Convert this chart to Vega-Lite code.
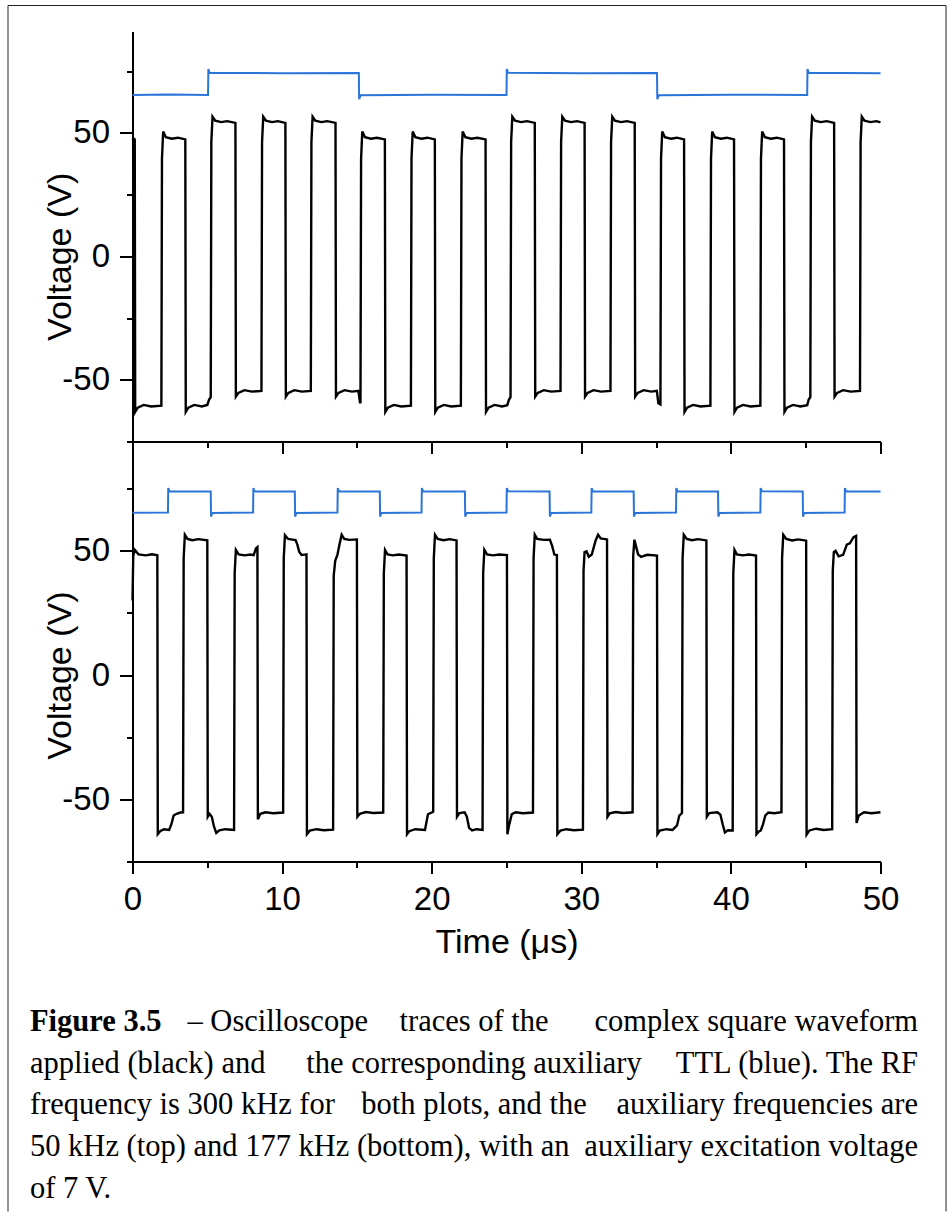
{
  "$schema": "https://vega.github.io/schema/vega-lite/v6.json",
  "padding": {"left": 7.5, "top": 4.5, "right": 0, "bottom": 0},
  "background": "white",
  "bounds": "flush",
  "spacing": 0,
  "config": {
    "view": {"stroke": null},
    "axis": {
      "grid": false,
      "domainColor": "black",
      "domainWidth": 2,
      "tickColor": "black",
      "tickWidth": 2,
      "labelFont": "Liberation Sans",
      "labelFontSize": 33,
      "labelColor": "black",
      "labelPadding": 10,
      "labelOverlap": false,
      "labelFlush": false,
      "titleFont": "Liberation Sans",
      "titleFontSize": 34,
      "titleFontWeight": "normal",
      "titleColor": "black"
    }
  },
  "datasets": {
    "frame": [
      {"x1": -8.322, "x2": -8.322, "y1": 101.53, "y2": -386.75},
      {"x1": 54.38, "x2": 54.38, "y1": 101.53, "y2": -386.75},
      {"x1": -8.322, "x2": 54.38, "y1": 101.53, "y2": 101.53}
    ],
    "topBlack": [
      {"t":0,"v":47.0},{"t":0.08,"v":47.6},{"t":0.15,"v":47.3},
      {"t":0.18,"v":-63},{"t":0.35,"v":-61.3},{"t":0.75,"v":-60.2},{"t":1.25,"v":-60.8},{"t":1.93,"v":-60.5},
      {"t":1.97,"v":39.6},{"t":2.05,"v":50.5},{"t":2.23,"v":48.2},{"t":2.63,"v":47.6},{"t":3.03,"v":48.0},{"t":3.53,"v":47.3},
      {"t":3.56,"v":-63},{"t":3.73,"v":-61.3},{"t":4.13,"v":-60.2},{"t":4.63,"v":-60.8},{"t":5.0,"v":-60.2},{"t":5.12,"v":-58},{"t":5.23,"v":-57},
      {"t":5.27,"v":46.3},{"t":5.35,"v":56.5},{"t":5.53,"v":54.9},{"t":5.93,"v":54.3},{"t":6.33,"v":54.7},{"t":6.88,"v":54.0},
      {"t":6.91,"v":-56.8},{"t":7.08,"v":-55.3},{"t":7.48,"v":-54.2},{"t":7.98,"v":-54.8},{"t":8.62,"v":-54.5},
      {"t":8.66,"v":46.3},{"t":8.74,"v":56.5},{"t":8.92,"v":54.9},{"t":9.32,"v":54.3},{"t":9.72,"v":54.7},{"t":10.22,"v":54.0},
      {"t":10.25,"v":-56.8},{"t":10.42,"v":-55.3},{"t":10.82,"v":-54.2},{"t":11.32,"v":-54.8},{"t":11.92,"v":-54.5},
      {"t":11.96,"v":46.3},{"t":12.04,"v":56.5},{"t":12.22,"v":54.9},{"t":12.62,"v":54.3},{"t":13.02,"v":54.7},{"t":13.57,"v":54.0},
      {"t":13.6,"v":-56.8},{"t":13.77,"v":-55.3},{"t":14.17,"v":-54.2},{"t":14.67,"v":-54.8},{"t":15.1,"v":-54.5},{"t":15.2,"v":-59},{"t":15.24,"v":-59.5},
      {"t":15.28,"v":39.6},{"t":15.36,"v":50.5},{"t":15.54,"v":48.2},{"t":15.94,"v":47.6},{"t":16.34,"v":48.0},{"t":16.87,"v":47.3},
      {"t":16.9,"v":-63},{"t":17.07,"v":-61.3},{"t":17.47,"v":-60.2},{"t":17.97,"v":-60.8},{"t":18.61,"v":-60.5},
      {"t":18.65,"v":39.6},{"t":18.73,"v":50.5},{"t":18.91,"v":48.2},{"t":19.31,"v":47.6},{"t":19.71,"v":48.0},{"t":20.21,"v":47.3},
      {"t":20.24,"v":-63},{"t":20.41,"v":-61.3},{"t":20.81,"v":-60.2},{"t":21.31,"v":-60.8},{"t":21.95,"v":-60.5},
      {"t":21.99,"v":39.6},{"t":22.07,"v":50.5},{"t":22.25,"v":48.2},{"t":22.65,"v":47.6},{"t":23.05,"v":48.0},{"t":23.6,"v":47.3},
      {"t":23.63,"v":-63},{"t":23.8,"v":-61.3},{"t":24.2,"v":-60.2},{"t":24.7,"v":-60.8},{"t":25.05,"v":-60.3},{"t":25.17,"v":-58},{"t":25.27,"v":-57},
      {"t":25.31,"v":46.3},{"t":25.39,"v":56.5},{"t":25.57,"v":54.9},{"t":25.97,"v":54.3},{"t":26.37,"v":54.7},{"t":26.89,"v":54.0},
      {"t":26.92,"v":-56.8},{"t":27.09,"v":-55.3},{"t":27.49,"v":-54.2},{"t":27.99,"v":-54.8},{"t":28.61,"v":-54.5},
      {"t":28.65,"v":46.3},{"t":28.73,"v":56.5},{"t":28.91,"v":54.9},{"t":29.31,"v":54.3},{"t":29.71,"v":54.7},{"t":30.22,"v":54.0},
      {"t":30.25,"v":-56.8},{"t":30.42,"v":-55.3},{"t":30.82,"v":-54.2},{"t":31.32,"v":-54.8},{"t":31.95,"v":-54.5},
      {"t":31.99,"v":46.3},{"t":32.07,"v":56.5},{"t":32.25,"v":54.9},{"t":32.65,"v":54.3},{"t":33.05,"v":54.7},{"t":33.57,"v":54.0},
      {"t":33.6,"v":-56.8},{"t":33.77,"v":-55.3},{"t":34.17,"v":-54.2},{"t":34.67,"v":-54.8},{"t":35.05,"v":-54.5},{"t":35.15,"v":-59.5},{"t":35.29,"v":-60},
      {"t":35.33,"v":39.6},{"t":35.41,"v":50.5},{"t":35.59,"v":48.2},{"t":35.99,"v":47.6},{"t":36.39,"v":48.0},{"t":36.87,"v":47.3},
      {"t":36.9,"v":-63},{"t":37.07,"v":-61.3},{"t":37.47,"v":-60.2},{"t":37.97,"v":-60.8},{"t":38.63,"v":-60.5},
      {"t":38.67,"v":39.6},{"t":38.75,"v":50.5},{"t":38.93,"v":48.2},{"t":39.33,"v":47.6},{"t":39.73,"v":48.0},{"t":40.21,"v":47.3},
      {"t":40.24,"v":-63},{"t":40.41,"v":-61.3},{"t":40.81,"v":-60.2},{"t":41.31,"v":-60.8},{"t":41.97,"v":-60.5},
      {"t":42.01,"v":39.6},{"t":42.09,"v":50.5},{"t":42.27,"v":48.2},{"t":42.67,"v":47.6},{"t":43.07,"v":48.0},{"t":43.55,"v":47.3},
      {"t":43.58,"v":-63},{"t":43.75,"v":-61.3},{"t":44.15,"v":-60.2},{"t":44.65,"v":-60.8},{"t":45.1,"v":-60.3},{"t":45.2,"v":-58},{"t":45.31,"v":-57},
      {"t":45.35,"v":46.3},{"t":45.43,"v":56.5},{"t":45.61,"v":54.9},{"t":46.01,"v":54.3},{"t":46.41,"v":54.7},{"t":46.9,"v":54.0},
      {"t":46.93,"v":-56.8},{"t":47.1,"v":-55.3},{"t":47.5,"v":-54.2},{"t":48.0,"v":-54.8},{"t":48.63,"v":-54.5},
      {"t":48.67,"v":46.3},{"t":48.75,"v":56.5},{"t":48.93,"v":54.9},{"t":49.33,"v":54.3},{"t":49.73,"v":54.7},{"t":50.0,"v":54.2}
    ],
    "topBlue": [
      {"t":0,"v":65.3},{"t":2.5,"v":65.5},{"t":5.05,"v":65.3},{"t":5.07,"v":75.8},{"t":5.15,"v":74.3},{"t":10,"v":74.1},
      {"t":15.13,"v":74.2},{"t":15.15,"v":63.6},{"t":15.25,"v":65.2},{"t":20,"v":65.4},
      {"t":25.0,"v":65.3},{"t":25.02,"v":75.8},{"t":25.1,"v":74.3},{"t":30,"v":74.1},
      {"t":35.06,"v":74.2},{"t":35.08,"v":63.6},{"t":35.18,"v":65.2},{"t":40,"v":65.4},
      {"t":45.1,"v":65.3},{"t":45.12,"v":75.8},{"t":45.2,"v":74.3},{"t":50,"v":74.1}
    ],
    "botBlack": [
      {"t":0,"v":30},{"t":0.05,"v":48},{"t":0.15,"v":50.4},{"t":0.4,"v":48.6},{"t":0.9,"v":48.2},{"t":1.3,"v":48.6},{"t":1.66,"v":48.2},
      {"t":1.69,"v":-64},{"t":1.85,"v":-62.8},{"t":2.1,"v":-62.0},{"t":2.45,"v":-62.3},{"t":2.6,"v":-60},{"t":2.75,"v":-56.5},{"t":2.95,"v":-55.8},{"t":3.2,"v":-55.3},{"t":3.38,"v":-55.2},
      {"t":3.42,"v":47},{"t":3.5,"v":56.5},{"t":3.68,"v":54.8},{"t":4.0,"v":54.3},{"t":4.4,"v":54.7},{"t":5.0,"v":54.2},
      {"t":5.03,"v":-57},{"t":5.15,"v":-55.8},{"t":5.3,"v":-57},{"t":5.45,"v":-61},{"t":5.6,"v":-63.5},{"t":5.8,"v":-62.5},{"t":6.2,"v":-62.0},{"t":6.79,"v":-62.3},
      {"t":6.83,"v":41},{"t":6.91,"v":50.4},{"t":7.1,"v":48.6},{"t":7.5,"v":48.2},{"t":7.9,"v":48.5},{"t":8.1,"v":48.3},{"t":8.25,"v":51},{"t":8.35,"v":51.5},
      {"t":8.38,"v":-58},{"t":8.55,"v":-55.8},{"t":8.9,"v":-55.2},{"t":9.4,"v":-55.6},{"t":10.07,"v":-55.3},
      {"t":10.11,"v":47},{"t":10.19,"v":56.3},{"t":10.4,"v":54.8},{"t":10.7,"v":54.5},{"t":10.9,"v":54.3},{"t":11.02,"v":52.5},{"t":11.15,"v":49.5},{"t":11.3,"v":48.3},{"t":11.63,"v":48.6},
      {"t":11.66,"v":-64},{"t":11.85,"v":-62.6},{"t":12.3,"v":-62},{"t":12.8,"v":-62.4},{"t":13.41,"v":-62.2},
      {"t":13.45,"v":40},{"t":13.55,"v":46},{"t":13.7,"v":48.5},{"t":13.85,"v":53},{"t":13.98,"v":56.5},{"t":14.15,"v":54.8},{"t":14.5,"v":54.4},{"t":15.0,"v":54.6},
      {"t":15.03,"v":-57},{"t":15.2,"v":-55.8},{"t":15.6,"v":-55.1},{"t":16.1,"v":-55.5},{"t":16.76,"v":-55.3},
      {"t":16.8,"v":41},{"t":16.88,"v":50.4},{"t":17.05,"v":48.6},{"t":17.4,"v":48.2},{"t":17.8,"v":48.5},{"t":18.32,"v":48.1},
      {"t":18.35,"v":-64},{"t":18.5,"v":-62.8},{"t":18.9,"v":-62},{"t":19.55,"v":-62.3},{"t":19.75,"v":-56},{"t":20.1,"v":-55},
      {"t":20.14,"v":47},{"t":20.22,"v":56.5},{"t":20.4,"v":54.8},{"t":20.8,"v":54.3},{"t":21.2,"v":54.7},{"t":21.66,"v":54.2},
      {"t":21.69,"v":-57},{"t":21.85,"v":-55.5},{"t":22.2,"v":-55.2},{"t":22.35,"v":-57},{"t":22.5,"v":-61.5},{"t":22.7,"v":-62.5},{"t":23.0,"v":-62},{"t":23.4,"v":-62.3},
      {"t":23.44,"v":41},{"t":23.52,"v":50.4},{"t":23.7,"v":48.6},{"t":24.1,"v":48.2},{"t":24.5,"v":48.5},{"t":25.03,"v":48.3},
      {"t":25.06,"v":-64},{"t":25.15,"v":-61},{"t":25.35,"v":-56},{"t":25.6,"v":-55.2},{"t":26.1,"v":-55.6},{"t":26.77,"v":-55.3},
      {"t":26.81,"v":47},{"t":26.89,"v":56.5},{"t":27.05,"v":54.8},{"t":27.5,"v":54.4},{"t":27.9,"v":54.5},{"t":28.05,"v":52},{"t":28.2,"v":48.5},{"t":28.37,"v":48.3},
      {"t":28.4,"v":-64},{"t":28.6,"v":-62.6},{"t":29.0,"v":-62},{"t":29.5,"v":-62.4},{"t":30.11,"v":-62.2},
      {"t":30.15,"v":42},{"t":30.22,"v":49.5},{"t":30.35,"v":49.8},{"t":30.5,"v":47.6},{"t":30.7,"v":48.5},{"t":30.95,"v":54},{"t":31.12,"v":56.5},{"t":31.3,"v":55},{"t":31.72,"v":54.6},
      {"t":31.75,"v":-57},{"t":31.9,"v":-55.6},{"t":32.3,"v":-55.1},{"t":32.8,"v":-55.5},{"t":33.43,"v":-55.2},
      {"t":33.47,"v":48},{"t":33.55,"v":54.5},{"t":33.65,"v":52},{"t":33.8,"v":48.5},{"t":34.0,"v":47.6},{"t":34.4,"v":48.4},{"t":35.06,"v":48.1},
      {"t":35.09,"v":-64},{"t":35.25,"v":-62.6},{"t":35.7,"v":-62},{"t":36.1,"v":-62.3},{"t":36.4,"v":-60.5},{"t":36.55,"v":-56.5},{"t":36.73,"v":-55.5},
      {"t":36.77,"v":47},{"t":36.85,"v":56.5},{"t":37.05,"v":54.8},{"t":37.4,"v":54.3},{"t":37.8,"v":54.7},{"t":38.36,"v":54.2},
      {"t":38.39,"v":-57},{"t":38.55,"v":-55.5},{"t":39.1,"v":-55.2},{"t":39.3,"v":-56.2},{"t":39.45,"v":-60},{"t":39.6,"v":-63.3},{"t":39.8,"v":-62.4},{"t":40.12,"v":-62.5},
      {"t":40.16,"v":41},{"t":40.24,"v":50.4},{"t":40.4,"v":48.6},{"t":40.8,"v":48.2},{"t":41.2,"v":48.5},{"t":41.68,"v":48.1},
      {"t":41.71,"v":-64},{"t":41.85,"v":-63},{"t":42.0,"v":-62.5},{"t":42.15,"v":-60},{"t":42.3,"v":-56.5},{"t":42.5,"v":-55.3},{"t":42.9,"v":-55.6},{"t":43.38,"v":-55.2},
      {"t":43.42,"v":47},{"t":43.5,"v":56.5},{"t":43.7,"v":54.8},{"t":44.1,"v":54.2},{"t":44.5,"v":54.6},{"t":45.03,"v":54.1},
      {"t":45.06,"v":-64.2},{"t":45.25,"v":-62.5},{"t":45.7,"v":-61.8},{"t":46.2,"v":-62.3},{"t":46.77,"v":-62},
      {"t":46.81,"v":42},{"t":46.88,"v":49.5},{"t":47.0,"v":50},{"t":47.2,"v":47.8},{"t":47.5,"v":48.4},{"t":47.75,"v":52.5},{"t":47.95,"v":53},{"t":48.2,"v":55.5},{"t":48.37,"v":56},
      {"t":48.4,"v":-59.5},{"t":48.55,"v":-56.5},{"t":48.9,"v":-55.2},{"t":49.4,"v":-55.6},{"t":50,"v":-55.2}
    ],
    "botBlue": [
      {"t":0,"v":65.3},{"t":2.37,"v":65.4},{"t":2.39,"v":75.3},{"t":2.47,"v":74.0},{"t":5.23,"v":73.9},{"t":5.25,"v":63.8},{"t":5.33,"v":65.2},
      {"t":8.06,"v":65.4},{"t":8.08,"v":75.3},{"t":8.16,"v":74.0},{"t":10.85,"v":73.9},{"t":10.87,"v":63.8},{"t":10.95,"v":65.2},
      {"t":13.70,"v":65.4},{"t":13.72,"v":75.3},{"t":13.8,"v":74.0},{"t":16.53,"v":73.9},{"t":16.55,"v":63.8},{"t":16.63,"v":65.2},
      {"t":19.32,"v":65.4},{"t":19.34,"v":75.3},{"t":19.42,"v":74.0},{"t":22.22,"v":73.9},{"t":22.24,"v":63.8},{"t":22.32,"v":65.2},
      {"t":25.0,"v":65.4},{"t":25.02,"v":75.3},{"t":25.1,"v":74.0},{"t":27.88,"v":73.9},{"t":27.9,"v":63.8},{"t":27.98,"v":65.2},
      {"t":30.67,"v":65.4},{"t":30.69,"v":75.3},{"t":30.77,"v":74.0},{"t":33.5,"v":73.9},{"t":33.52,"v":63.8},{"t":33.6,"v":65.2},
      {"t":36.33,"v":65.4},{"t":36.35,"v":75.3},{"t":36.43,"v":74.0},{"t":39.14,"v":73.9},{"t":39.16,"v":63.8},{"t":39.24,"v":65.2},
      {"t":41.97,"v":65.4},{"t":41.99,"v":75.3},{"t":42.07,"v":74.0},{"t":44.8,"v":73.9},{"t":44.82,"v":63.8},{"t":44.9,"v":65.2},
      {"t":47.6,"v":65.4},{"t":47.62,"v":75.3},{"t":47.7,"v":74.0},{"t":50,"v":73.9}
    ],
    "capBold": [
      {"pos": 0, "line": 1, "text": "Figure 3.5"}
    ],
    "capLead": [
      {"pos": 0, "line": 1, "text": "– Oscilloscope"}
    ],
    "capLeft": [
      {"pos": 0, "line": 2, "text": "applied (black) and"},
      {"pos": 0, "line": 3, "text": "frequency is 300 kHz for"},
      {"pos": 0, "line": 4, "text": "50 kHz (top) and 177 kHz (bottom), with an"},
      {"pos": 0, "line": 5, "text": "of 7 V."}
    ],
    "capMid": [
      {"pos": 0.5, "line": 1, "text": "traces of the"},
      {"pos": 0.5, "line": 2, "text": "the corresponding auxiliary"},
      {"pos": 0.5, "line": 3, "text": "both plots, and the"}
    ],
    "capRight": [
      {"pos": 1, "line": 1, "text": "complex square waveform"},
      {"pos": 1, "line": 2, "text": "TTL (blue). The RF"},
      {"pos": 1, "line": 3, "text": "auxiliary frequencies are"},
      {"pos": 1, "line": 4, "text": "auxiliary excitation voltage"}
    ]
  },
  "vconcat": [
    {
      "width": 748,
      "height": 410,
      "layer": [
        {
          "data": {"name": "frame"},
          "mark": {"type": "rule", "color": "#222222", "strokeWidth": 1},
          "encoding": {
            "x": {"field": "x1", "type": "quantitative"},
            "x2": {"field": "x2"},
            "y": {"field": "y1", "type": "quantitative"},
            "y2": {"field": "y2"}
          }
        },
        {
          "data": {"name": "topBlue"},
          "mark": {"type": "line", "color": "#2B74D9", "strokeWidth": 2},
          "encoding": {
            "x": {"field": "t", "type": "quantitative"},
            "y": {"field": "v", "type": "quantitative"}
          }
        },
        {
          "data": {"name": "topBlack"},
          "mark": {"type": "line", "color": "black", "strokeWidth": 2.4},
          "encoding": {
            "x": {
              "field": "t", "type": "quantitative",
              "scale": {"domain": [0, 50], "nice": false, "zero": false},
              "axis": {
                "title": null,
                "labels": false,
                "values": [0, 5, 10, 15, 20, 25, 30, 35, 40, 45, 50],
                "tickSize": {"condition": {"test": "datum.value % 10 === 0", "value": 12}, "value": 6}
              }
            },
            "y": {
              "field": "v", "type": "quantitative",
              "scale": {"domain": [-75, 91], "nice": false, "zero": false},
              "axis": {
                "title": "Voltage (V)",
                "values": [-75, -50, -25, 0, 25, 50, 75],
                "labelExpr": "datum.value % 50 === 0 ? '' + datum.value : ''",
                "tickSize": {"condition": {"test": "datum.value % 50 === 0", "value": 13}, "value": 6},
                "titleX": -62.5,
                "titleY": 224.8,
                "titleAngle": -90,
                "titleAlign": "center",
                "titleBaseline": "alphabetic"
              }
            }
          }
        }
      ]
    },
    {
      "width": 748,
      "height": 420,
      "layer": [
        {
          "data": {"name": "botBlue"},
          "mark": {"type": "line", "color": "#2B74D9", "strokeWidth": 2},
          "encoding": {
            "x": {"field": "t", "type": "quantitative"},
            "y": {"field": "v", "type": "quantitative"}
          }
        },
        {
          "data": {"name": "botBlack"},
          "mark": {"type": "line", "color": "black", "strokeWidth": 2.4},
          "encoding": {
            "x": {
              "field": "t", "type": "quantitative",
              "scale": {"domain": [0, 50], "nice": false, "zero": false},
              "axis": {
                "title": "Time (μs)",
                "values": [0, 5, 10, 15, 20, 25, 30, 35, 40, 45, 50],
                "labelExpr": "datum.value % 10 === 0 ? '' + datum.value : ''",
                "tickSize": {"condition": {"test": "datum.value % 10 === 0", "value": 12}, "value": 6},
                "titleX": 374,
                "titleY": 91,
                "titleAlign": "center",
                "titleBaseline": "alphabetic"
              }
            },
            "y": {
              "field": "v", "type": "quantitative",
              "scale": {"domain": [-75, 94], "nice": false, "zero": false},
              "axis": {
                "title": "Voltage (V)",
                "values": [-75, -50, -25, 0, 25, 50, 75],
                "labelExpr": "datum.value % 50 === 0 ? '' + datum.value : ''",
                "tickSize": {"condition": {"test": "datum.value % 50 === 0", "value": 13}, "value": 6},
                "titleX": -62.5,
                "titleY": 233.6,
                "titleAngle": -90,
                "titleAlign": "center",
                "titleBaseline": "alphabetic"
              }
            }
          }
        }
      ]
    },
    {
      "width": 748,
      "height": 352,
      "encoding": {
        "x": {"field": "pos", "type": "quantitative", "scale": {"domain": [0.11543, 0.95773], "nice": false, "zero": false}, "axis": null},
        "y": {"field": "line", "type": "quantitative", "scale": {"domain": [-3.079, 5.382], "nice": false, "zero": false, "reverse": true}, "axis": null},
        "text": {"field": "text"}
      },
      "layer": [
        {
          "data": {"name": "capBold"},
          "mark": {"type": "text", "align": "left", "baseline": "alphabetic", "font": "Liberation Serif", "fontSize": 30.5, "fontWeight": "bold", "color": "black"}
        },
        {
          "data": {"name": "capLead"},
          "mark": {"type": "text", "align": "left", "baseline": "alphabetic", "font": "Liberation Serif", "fontSize": 30.5, "color": "black", "dx": 157.5}
        },
        {
          "data": {"name": "capLeft"},
          "mark": {"type": "text", "align": "left", "baseline": "alphabetic", "font": "Liberation Serif", "fontSize": 30.5, "color": "black"}
        },
        {
          "data": {"name": "capMid"},
          "mark": {"type": "text", "align": "center", "baseline": "alphabetic", "font": "Liberation Serif", "fontSize": 30.5, "color": "black"}
        },
        {
          "data": {"name": "capRight"},
          "mark": {"type": "text", "align": "right", "baseline": "alphabetic", "font": "Liberation Serif", "fontSize": 30.5, "color": "black"}
        }
      ]
    }
  ]
}
